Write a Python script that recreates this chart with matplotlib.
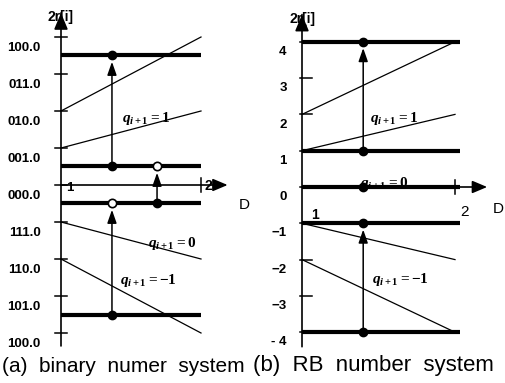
import numpy as np
import matplotlib.pyplot as plt

plt.rcParams['font.family'] = ['Liberation Sans', 'DejaVu Sans']
plt.rcParams['mathtext.fontset'] = 'custom'
plt.rcParams['mathtext.it'] = 'Liberation Serif:italic:bold'
plt.rcParams['mathtext.rm'] = 'Liberation Serif:bold'

# y ticks (in units of the divisor step) and their labels
ticks = [4, 3, 2, 1, 0, -1, -2, -3, -4]
labels_a = ['100.0', '011.0', '010.0', '001.0', '000.0', '111.0', '110.0', '101.0', '100.0']
labels_b = ['4', '3', '2', '1', '0', '\u22121', '\u22122', '\u22123', '- 4']

# D range of the partial remainder plot
d_range = [1, 2]
# boundary lines 2r = k*D
slopes_a = [2, 1, -1, -2]
slopes_b = [2, 1, -1, -2]

# thick horizontal levels
levels_a = [3.5, 0.5, -0.5, -3.5]
levels_b = [4, 1, 0, -1, -4]

# vertical arrows (D, from, to, open circle at top?)
arrows_a = [(1.364, 0.5, 3.5, False), (1.686, -0.5, 0.5, True), (1.364, -3.5, -0.5, True)]
arrows_b = [(1.40, 1, 4, False), (1.40, -4, -1, False)]
extra_dots_b = [(1.40, 0)]
open_dots_a = [(1.686, 0.5), (1.364, -0.5)]

q_labels = ['$q_{i+1} = 1$', '$q_{i+1} = 0$', '$q_{i+1} = -1$']
q_pos_a = [(1.436, 1.81), (1.62, -1.57), (1.42, -2.57)]
q_pos_b = [(1.444, 1.90), (1.38, 0.1), (1.46, -2.56)]

captions = ['(a)  binary  numer  system', '(b)  RB  number  system']

W, H = 506, 383
fig = plt.figure(figsize=(W / 100, H / 100), dpi=100)


def make_axes(x1px, y0px, dpx, ypx):
    # axes covering the whole figure, mapped so D=1 -> x1px, D=2 -> x1px+dpx
    ax = fig.add_axes([0, 0, 1, 1])
    ax.patch.set_alpha(0)
    ax.axis('off')
    xmin = 1 - x1px / dpx
    ax.set_xlim(xmin, xmin + W / dpx)
    ax.set_ylim((y0px - H) / ypx, y0px / ypx)
    return ax


def draw_panel(ax, labels, slopes, levels, arrows, ymin, ytop, xend, lev_end,
               tick_l, tick_r, lab_x, lab_dy, q_pos):
    lw_thin = 0.9
    head = '-|>,head_length=0.9,head_width=0.38'
    # y axis with arrow
    ax.annotate('', xy=(1, ytop), xytext=(1, ymin),
                arrowprops=dict(arrowstyle='-', color='black', lw=1.2, shrinkA=0, shrinkB=0))
    # x axis with arrow
    ax.annotate('', xy=(xend, 0), xytext=(1, 0),
                arrowprops=dict(arrowstyle=head, color='black', lw=1.2, shrinkA=0, shrinkB=0))
    for t, lab in zip(ticks, labels):
        ax.plot([1 - tick_l, 1 + tick_r], [t, t], color='black', lw=1.1)
        ax.text(lab_x, t - lab_dy, lab, ha='right', va='center',
                fontsize=9.5, fontweight='bold')
    ax.plot([2, 2], [-0.18, 0.18], color='black', lw=1.1)
    # boundary lines
    d = np.array(d_range)
    for s in slopes:
        ax.plot(d, s * d, color='black', lw=lw_thin)
    for lv in levels:
        ax.plot([1, lev_end], [lv, lv], color='black', lw=3.0, solid_capstyle='butt', zorder=3)
    for x, y0, y1, open_top in arrows:
        ax.annotate('', xy=(x, y1), xytext=(x, y0),
                    arrowprops=dict(arrowstyle='-|>,head_length=0.8,head_width=0.28',
                                    color='black', lw=1.1, shrinkA=0, shrinkB=4.5),
                    zorder=4)
        ax.plot(x, y0, 'o', color='black', ms=6, zorder=5)
        if not open_top:
            ax.plot(x, y1, 'o', color='black', ms=6, zorder=5)
    for (x, y), lab in zip(q_pos, q_labels):
        ax.text(x, y, lab, fontsize=11, ha='left', va='center', zorder=2)
    ax.text(1, ytop - 0.12, '2r[i]', ha='center', va='center', fontsize=10,
            fontweight='bold', zorder=1)
    ax.annotate('', xy=(1, ytop), xytext=(1, ytop - 0.4),
                arrowprops=dict(arrowstyle='-|>,head_length=1.0,head_width=0.42',
                                color='black', lw=1.2, shrinkA=0, shrinkB=0), zorder=6)


# panel (a)
ax_a = make_axes(61, 185, 140, 37)
draw_panel(ax_a, labels_a, slopes_a, levels_a, arrows_a, -4.35, 4.65, 2.19, 2.0,
           0.045, 0.045, 0.855, 0.3, q_pos_a)
for x, y in open_dots_a:
    ax_a.plot(x, y, 'o', mfc='white', mec='black', ms=6, mew=1.2, zorder=6)
ax_a.text(1.06, -0.08, '1', ha='center', va='center', fontsize=9.5, fontweight='bold')
ax_a.text(2.05, -0.02, '2', ha='center', va='center', fontsize=10, fontweight='bold')
ax_a.text(2.31, -0.55, 'D', ha='center', va='center', fontsize=11)

# panel (b)
ax_b = make_axes(302, 187, 153, 36.3)
draw_panel(ax_b, labels_b, slopes_b, levels_b, arrows_b, -4.4, 4.75, 2.21, 2.03,
           0.01, 0.065, 0.9, 0.28, q_pos_b)
for x, y in extra_dots_b:
    ax_b.plot(x, y, 'o', color='black', ms=6, zorder=5)
ax_b.text(1.085, -0.78, '1', ha='center', va='center', fontsize=10, fontweight='bold')
ax_b.text(2.065, -0.7, '2', ha='center', va='center', fontsize=11)
ax_b.text(2.28, -0.6, 'D', ha='center', va='center', fontsize=11)

fig.text(2 / W, 1 - 366 / H, captions[0], ha='left', va='center', fontsize=15)
fig.text(253 / W, 1 - 366 / H, captions[1], ha='left', va='center', fontsize=16)

fig.savefig('out.png', dpi=100)
